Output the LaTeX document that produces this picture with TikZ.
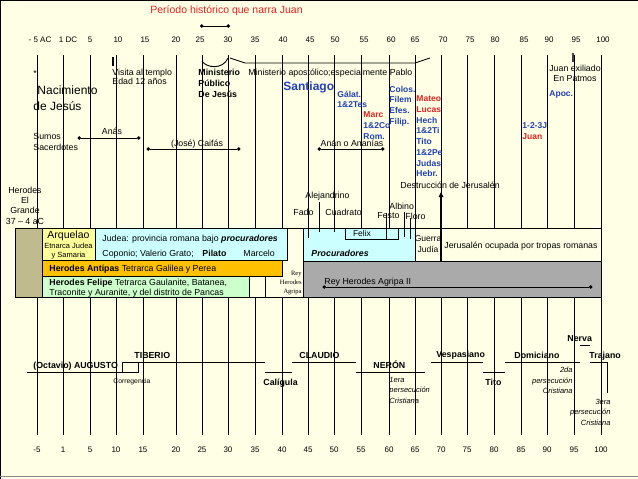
\documentclass[tikz,border=0pt]{standalone}
\usepackage{fontspec}
\setmainfont{Liberation Sans}
\newfontfamily\serifrm{Liberation Serif}
\usepackage{xcolor}
\usetikzlibrary{arrows.meta}

\definecolor{crema}{HTML}{FFFFE5}
\definecolor{rojo}{HTML}{E42020}
\definecolor{azul}{HTML}{2040B8}
\definecolor{caqui}{HTML}{BFBB8E}
\definecolor{amarillo}{HTML}{FFFF99}
\definecolor{celeste}{HTML}{CCFFFF}
\definecolor{naranja}{HTML}{FFC000}
\definecolor{verde}{HTML}{CCFFCC}
\definecolor{gris}{HTML}{AAAAAA}

\begin{document}
\begin{tikzpicture}[x=1pt,y=-1pt,line width=0.9pt,
  every node/.style={inner sep=0pt},
  txt/.style={font=\fontsize{8.8}{10.3}\selectfont},
  anio/.style={font=\fontsize{8}{9}\selectfont, anchor=base},
  libro/.style={font=\fontsize{8.5}{10.7}\selectfont\bfseries, text=azul, align=left, anchor=north west},
  emp/.style={font=\fontsize{8.8}{10}\selectfont\bfseries, anchor=base west},
  perse/.style={font=\fontsize{7.5}{10.3}\selectfont\itshape}]
\useasboundingbox (0,0) rectangle (638,479);
% fondo y marco
\fill[crema] (0,0) rectangle (638,479);
\draw[line width=1.2pt] (0.6,479) -- (0.6,0.6) -- (638,0.6);
\draw[line width=1.2pt, black!45] (0,476.5) -- (638,476.5);

% titulo
\node[font=\fontsize{10.5}{12}\selectfont, text=rojo, anchor=base] (titulo) at (226.5,13.5) {Período histórico que narra Juan};
\draw[{Circle[length=3.5pt]}-{Circle[length=3.5pt]}] (200,26) -- (230,26);

% lineas de los años
\foreach \a/\x in {-5/37,1/63,5/90,10/116,15/143,20/176,25/202,30/228,35/255,40/282,45/308,50/334,55/361,60/389,65/415,70/441,75/467,80/494,85/521,90/547,95/574,100/601} {
  \draw (\x,55) -- (\x,435);
  \node[anio] (abajo\a) at (\x,452.6) {\a};
}
\node[anio] (arribaAC) at (40,42.6) {- 5 AC};
\node[anio] (arribaDC) at (68,42.6) {1 DC};
\node[anio] (arriba5) at (90,42.6) {5};
\foreach \a/\x in {10/118,15/145,20/176,25/200,30/228,35/255,40/283,45/310,50/335,55/364,60/391,65/415,70/443,75/470,80/495,85/524,90/549,95/576,100/603}
  \node[anio] (arriba\a) at (\x,42.6) {\a};
\draw[line width=1.3pt] (113,57) -- (113,66);
\draw[line width=1.6pt, black!75] (573,53) -- (573,62);

% ministerio
\draw (202,61) .. controls (206,68) and (223,70) .. (228,58);
\draw (230,58) -- (245,63) -- (415,63) -- (430,58);

% textos de arriba
\node[txt, anchor=base west] (asterisco) at (33,76) {*};
\node[font=\fontsize{12}{14}\selectfont, anchor=base west] (nacimiento) at (37,94) {Nacimiento};
\node[font=\fontsize{12}{14}\selectfont, anchor=base west] (dejesus) at (33,110) {de Jesús};
\node[font=\fontsize{8.8}{9.5}\selectfont, align=left, anchor=north west] (visita) at (112,68.4) {Visita al templo\\Edad 12 años};
\node[font=\fontsize{8.8}{11}\selectfont\bfseries, align=left, anchor=north west] (minpub) at (198,68.5) {Ministerio\\Público\\De Jesús};
\node[txt, anchor=base west] (minapost) at (248,75) {Ministerio apostólico;especialmente Pablo};
\node[font=\fontsize{12}{14}\selectfont\bfseries, text=azul, anchor=base west] (santiago) at (283,90) {Santiago};
\node[libro] (galat) at (337,90.6) {Gálat.\\1\&2Tes};
\node[libro] (marc) at (363,111.6) {\textcolor{rojo}{Marc}\\1\&2Co\\Rom.};
\node[libro] (colos) at (389,85.6) {Colos.\\Filem\\Efes.\\Filip.};
\node[libro] (mateo) at (416,95.6) {\textcolor{rojo}{Mateo}\\\textcolor{rojo}{Lucas}\\Hech\\1\&2Ti\\Tito\\1\&2Pe\\Judas\\Hebr.};
\node[txt, align=center, anchor=north] (patmos) at (575,64.4) {Juan exiliado\\En Patmos};
\node[libro] (apoc) at (549,90.6) {Apoc.};
\node[libro] (cartasjuan) at (522,122.6) {1-2-3J\\\textcolor{rojo}{Juan}};

% sumos sacerdotes
\node[txt, align=left, anchor=north west] (sumos) at (33,133.4) {Sumos\\Sacerdotes};
\node[txt, anchor=base] (anas) at (112,134) {Anás};
\draw[{Circle[length=3.5pt]}-{Circle[length=3.5pt]}] (77.5,138) -- (140.5,138);
\node[txt, anchor=base] (caifas) at (197,146) {(José) Caifás};
\draw[{Circle[length=3.5pt]}-{Circle[length=3.5pt]}] (146.5,149) -- (240.5,149);
\node[txt, anchor=base] (anan) at (352,146) {Anán o Ananías};
\draw[{Circle[length=3.5pt]}-{Circle[length=3.5pt]}] (317.5,149) -- (384.5,149);

% herodes y procuradores
\node[txt, align=center, anchor=north] (herodes) at (25,186.4) {Herodes\\El\\Grande\\37 – 4 aC};
\node[txt, anchor=base west] (destruccion) at (400,188) {Destrucción de Jerusalén};
\node[txt, anchor=base west] (alejandrino) at (305,198) {Alejandrino};
\node[txt, anchor=base west] (fado) at (293,215) {Fado};
\node[txt, anchor=base west] (cuadrato) at (325,215) {Cuadrato};
\node[txt, anchor=base west] (albino) at (389,209) {Albino};
\node[txt, anchor=base west] (festo) at (377,218) {Festo};
\node[txt, anchor=base west] (floro) at (405,219) {Floro};

% franja de gobernantes
\fill[crema] (15,228) rectangle (601,297);
\draw[fill=caqui] (15,228) rectangle (42,297);
\draw[fill=amarillo] (42,228) rectangle (95,260);
\draw[fill=celeste] (95,228) rectangle (287,260);
\draw[fill=naranja] (42,260) rectangle (282,276);
\draw[fill=verde] (42,276) rectangle (249,297);
\draw (265,276) -- (265,297);
\draw[fill=celeste] (303,228) rectangle (415,261);
\draw[fill=crema] (415,228) rectangle (441,261);
\draw[fill=crema] (441,228) rectangle (601,261);
\draw[fill=gris] (303,261) rectangle (601,297);
\draw (15,228) rectangle (601,297);
\draw (345,228) -- (345,239) -- (398,239) -- (398,228);
\draw (308,228) -- (308,238);
\draw (319,202) -- (319,232);
\draw (334,228) -- (334,232);
\draw (386,213) -- (386,239);
\draw (404,212) -- (404,237);
\draw (410,218) -- (410,239);
\draw[line width=1.6pt, -{Triangle[length=5pt,width=4.5pt]}] (441,261) -- (441,192);

\node[font=\fontsize{10.5}{12}\selectfont, anchor=base] (arquelao) at (68.5,238.5) {Arquelao};
\node[font=\fontsize{7.5}{9}\selectfont, align=center, anchor=north] (etnarca) at (68.5,243) {Etnarca Judea\\y Samaria};
\node[txt, anchor=base west] (judea) at (102,241) {Judea: provincia romana bajo \textbf{\textit{procuradores}}};
\node[txt, anchor=base west] (coponio) at (102,256) {Coponio; Valerio Grato;};
\node[txt, anchor=base west] (pilato) at (202,256) {\textbf{Pilato}};
\node[txt, anchor=base west] (marcelo) at (243,256) {Marcelo};
\node[txt, anchor=base west] (antipas) at (49,271.5) {\textbf{Herodes Antipas} Tetrarca Galilea y Perea};
\node[txt, align=left, anchor=north west] (felipe) at (49,278.4) {\textbf{Herodes Felipe} Tetrarca Gaulanite, Batanea,\\Traconite y Auranite, y del distrito de Pancas};
\node[font=\serifrm\fontsize{6.5}{9}\selectfont, align=right, anchor=north east] (agripa) at (302,270.4) {Rey\\Herodes\\Agripa};
\node[txt, anchor=base west] (procur) at (311,256) {\textbf{\textit{Procuradores}}};
\node[font=\fontsize{8.5}{10}\selectfont, anchor=base] (felix) at (362,236) {Felix};
\node[font=\fontsize{8.5}{10.5}\selectfont, align=center, anchor=north] (guerra) at (428,235.6) {Guerra\\Judía};
\node[txt, anchor=base west] (ocupada) at (444,248) {Jerusalén ocupada por tropas romanas};
\node[txt, anchor=base west] (agripados) at (324,284) {Rey Herodes Agripa II};
\draw[{Circle[length=3.5pt]}-{Circle[length=3.5pt]}] (322.5,287) -- (592.5,287);

% emperadores
\draw (27,372) -- (122,372) -- (122,362) -- (138,362) -- (138,372) -- (122,372);
\draw (138,362) -- (265,362);
\draw (265,372) -- (292,372);
\draw (292,362) -- (356,362);
\draw (356,372) -- (425,372);
\draw (431,362) -- (483,362);
\draw (483,372) -- (505,372);
\draw (505,362) -- (580,362);
\draw (580,345) -- (590,345);
\draw (590,362) -- (607,362) -- (607,393);
\node[emp] (augusto) at (33,368) {(Octavio) AUGUSTO};
\node[emp] (tiberio) at (134,358) {TIBERIO};
\node[font=\fontsize{6.8}{8}\selectfont, anchor=base west] (corregencia) at (113,383.3) {Corregencia};
\node[emp] (caligula) at (263,385) {Calígula};
\node[emp] (claudio) at (299,358) {CLAUDIO};
\node[emp] (neron) at (373,368) {NERÓN};
\node[perse, align=left, anchor=north west] (persea) at (389,377) {1era\\persecución\\Cristiana};
\node[emp] (vespasiano) at (436,357) {Vespasiano};
\node[emp] (tito) at (485,385) {Tito};
\node[emp] (domiciano) at (514,358) {Domiciano};
\node[perse, align=right, anchor=north east] (perseb) at (573,367) {2da\\persecución\\Cristiana};
\node[emp] (nerva) at (567,341) {Nerva};
\node[emp] (trajano) at (589,358) {Trajano};
\node[perse, align=right, anchor=north east] (persec) at (611,399) {3era\\persecución\\Cristiana};
\end{tikzpicture}
\end{document}
